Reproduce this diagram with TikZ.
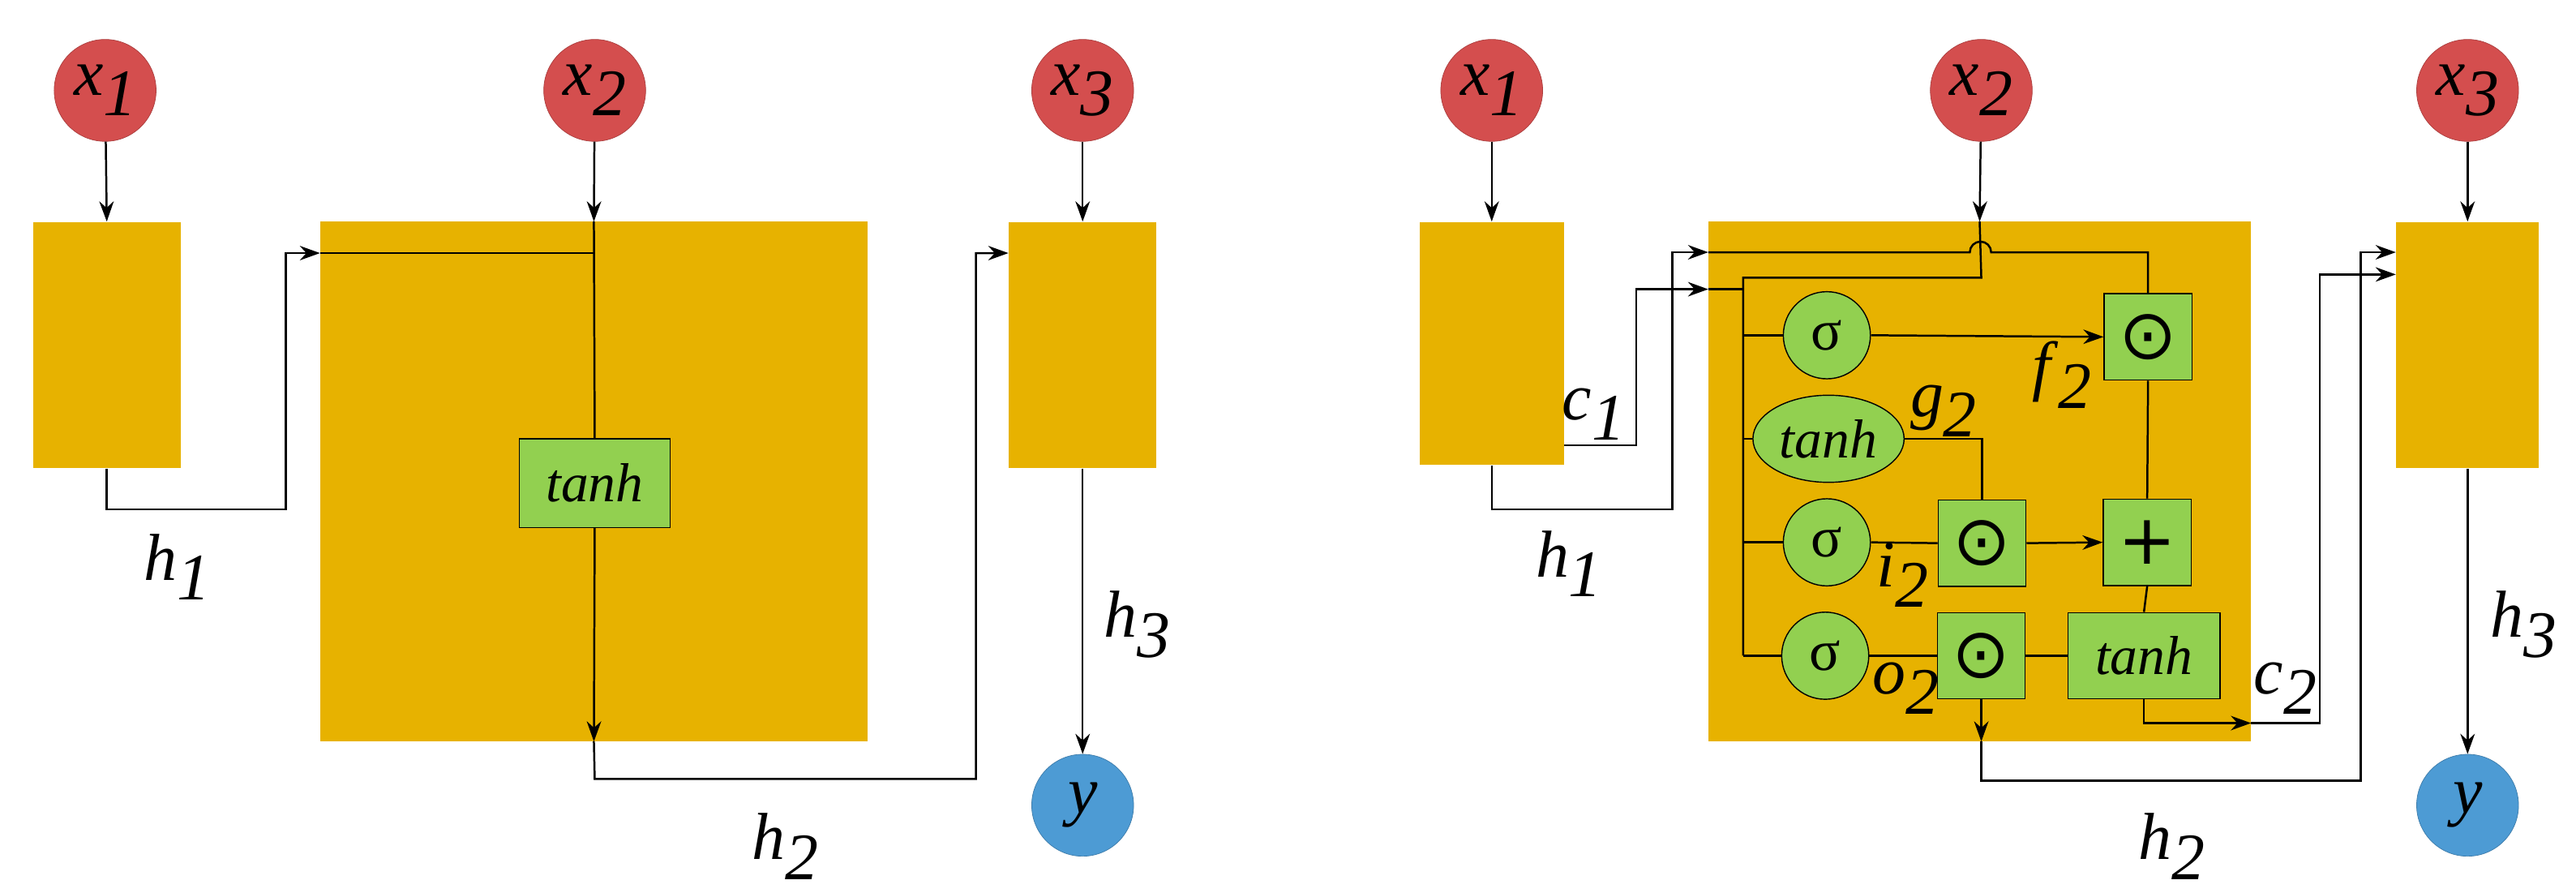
\documentclass[tikz,border=0pt]{standalone}
\usepackage{fontspec}
\setmainfont{Liberation Serif}
\newfontfamily\dejavu{DejaVu Sans}
\usetikzlibrary{arrows.meta,shapes.geometric}
\definecolor{cellorange}{HTML}{E7B200}
\definecolor{inred}{HTML}{D44E4E}
\definecolor{outblue}{HTML}{4D9BD4}
\definecolor{gategreen}{HTML}{92D050}
\newcommand{\sub}[2]{\textit{#1}\raisebox{-0.3em}{\textit{#2}}}
\begin{document}
\begin{tikzpicture}[x=0.04cm,y=-0.04cm,
  lbl/.style={font=\fontsize{46}{50}\selectfont},
  inp/.style={circle,fill=inred,draw=inred!80!black,minimum size=2.48cm,inner sep=0pt,font=\fontsize{46}{50}\selectfont},
  outp/.style={circle,fill=outblue,draw=outblue!80!black,minimum size=2.48cm,inner sep=0pt,font=\fontsize{46}{50}\selectfont},
  cell/.style={rectangle,fill=cellorange,inner sep=0pt},
  gbox/.style={rectangle,fill=gategreen,draw=black,line width=0.8pt,inner sep=0pt,minimum width=2.14cm,minimum height=2.1cm},
  gcirc/.style={ellipse,fill=gategreen,draw=black,line width=0.8pt,inner sep=0pt,minimum width=2.12cm,minimum height=2.12cm,font=\fontsize{40}{44}\selectfont},
  op/.style={font=\dejavu\fontsize{48}{50}\selectfont},
  ln/.style={line width=1.4pt},
  arr/.style={ln,-{Stealth[length=14pt,width=10pt]}}]
\useasboundingbox (0,0) rectangle (1568,543);

% ---------- left: simple RNN ----------
\node[inp] (lx1) at (64,55) {\sub{x}{1}};
\node[inp] (lx2) at (362,55) {\sub{x}{2}};
\node[inp] (lx3) at (659,55) {\sub{x}{3}};
\node[outp] (ly) at (659,490) {\textit{y}};
\node[cell,minimum width=3.6cm,minimum height=6cm] (lb1) at (65,210) {};
\node[cell,minimum width=13.32cm,minimum height=12.64cm] (lbig) at (361.5,293) {};
\node[cell,minimum width=3.6cm,minimum height=6cm] (lb3) at (659,210) {};
\node[gbox,minimum width=3.68cm,minimum height=2.16cm,font=\fontsize{38}{40}\selectfont] (ltanh) at (362,294) {\textit{tanh}};

\draw[arr] (lx1) -- (lb1.north);
\draw[arr] (lx2) -- (lbig.north);
\draw[arr] (lx3) -- (lb3.north);
\draw[arr] (lb1.south) -- (65,310) -- (174,310) -- (174,154) -- (lbig.west |- 0,154);
\draw[ln] (lbig.west |- 0,154) -- (362,154);
\draw[ln] (lbig.north) -- (ltanh.north);
\draw[arr] (ltanh.south) -- (lbig.south);
\draw[arr] (lbig.south) -- (362,474) -- (594,474) -- (594,154) -- (lb3.west |- 0,154);
\draw[arr] (lb3.south) -- (ly);
\node[lbl] (lh1) at (108,345) {\sub{h}{1}};
\node[lbl] (lh2) at (478,515) {\sub{h}{2}};
\node[lbl] (lh3) at (692,380) {\sub{h}{3}};

% ---------- right: LSTM ----------
\node[inp] (rx1) at (908,55) {\sub{x}{1}};
\node[inp] (rx2) at (1206,55) {\sub{x}{2}};
\node[inp] (rx3) at (1502,55) {\sub{x}{3}};
\node[outp] (ry) at (1502,490) {\textit{y}};
\node[cell,minimum width=3.52cm,minimum height=5.92cm] (rb1) at (908,209) {};
\node[cell,minimum width=13.2cm,minimum height=12.64cm] (rbig) at (1205,293) {};
\node[cell,minimum width=3.48cm,minimum height=6cm] (rb3) at (1502,210) {};

\node[gcirc] (s1) at (1112,204) {σ};
\node[gcirc,minimum width=3.68cm,font=\fontsize{38}{40}\selectfont] (th) at (1113,267) {\textit{tanh}};
\node[gcirc] (s2) at (1112,330) {σ};
\node[gcirc] (s3) at (1111,399) {σ};
\node[gbox,op] (fm) at (1307.5,205) {⊙};
\node[gbox,op] (pl) at (1307,330) {+};
\node[gbox,op] (im) at (1206.5,330.5) {⊙};
\node[gbox,op] (om) at (1206,399) {⊙};
\node[gbox,minimum width=3.7cm,font=\fontsize{38}{40}\selectfont] (tb) at (1305,399) {\textit{tanh}};

\draw[arr] (rx1) -- (rb1.north);
\draw[arr] (rx2) -- (rbig.north);
\draw[arr] (rx3) -- (rb3.north);
% h1 and c1 into the cell
\draw[arr] (rb1.south) -- (908,310) -- (1018,310) -- (1018,153.5) -- (rbig.west |- 0,153.5);
\draw[arr] (rb1.east |- 0,271) -- (996,271) -- (996,176) -- (rbig.west |- 0,176);
% cell state line with hop over x2
\draw[ln] (rbig.west |- 0,153.5) -- (1199,153.5) arc (180:360:6.5) -- (1307.5,153.5) -- (fm.north);
% x2 and h1 bus
\draw[ln] (rbig.north) -- (1206,169) -- (1061,169) -- (1061,399);
\draw[ln] (rbig.west |- 0,176) -- (1061,176);
\draw[ln] (1061,204) -- (s1.west);
\draw[ln] (1061,267) -- (th.west);
\draw[ln] (1061,330) -- (s2.west);
\draw[ln] (1061,399) -- (s3.west);
% gates
\draw[arr] (s1.east) -- (fm.west);
\draw[ln] (th.east) -- (1206.5,267) -- (im.north);
\draw[ln] (s2.east) -- (im.west);
\draw[arr] (im.east) -- (pl.west);
\draw[ln] (fm.south) -- (pl.north);
\draw[ln] (pl.south) -- (tb.north);
\draw[ln] (s3.east) -- (om.west);
\draw[ln] (om.east) -- (tb.west);
% outputs
\draw[arr] (tb.south) -- (1305,440) -- (rbig.east |- 0,440);
\draw[arr] (rbig.east |- 0,440) -- (1412,440) -- (1412,167) -- (rb3.west |- 0,167);
\draw[arr] (om.south) -- (rbig.south -| om.south);
\draw[arr] (rbig.south -| om.south) -- (1206,475) -- (1437,475) -- (1437,153.5) -- (rb3.west |- 0,153.5);
\draw[arr] (rb3.south) -- (ry);

\node[lbl] (rc1) at (970,252) {\sub{c}{1}};
\node[lbl] (rg2) at (1183,250) {\sub{g}{2}};
\node[lbl] (rf2) at (1255,228) {\sub{f}{2}};
\node[lbl] (ri2) at (1158,350) {\sub{i}{2}};
\node[lbl] (ro2) at (1160,419) {\sub{o}{2}};
\node[lbl] (rc2) at (1391,419) {\sub{c}{2}};
\node[lbl] (rh1) at (955,343) {\sub{h}{1}};
\node[lbl] (rh2) at (1322,515) {\sub{h}{2}};
\node[lbl] (rh3) at (1536,380) {\sub{h}{3}};
\end{tikzpicture}
\end{document}
